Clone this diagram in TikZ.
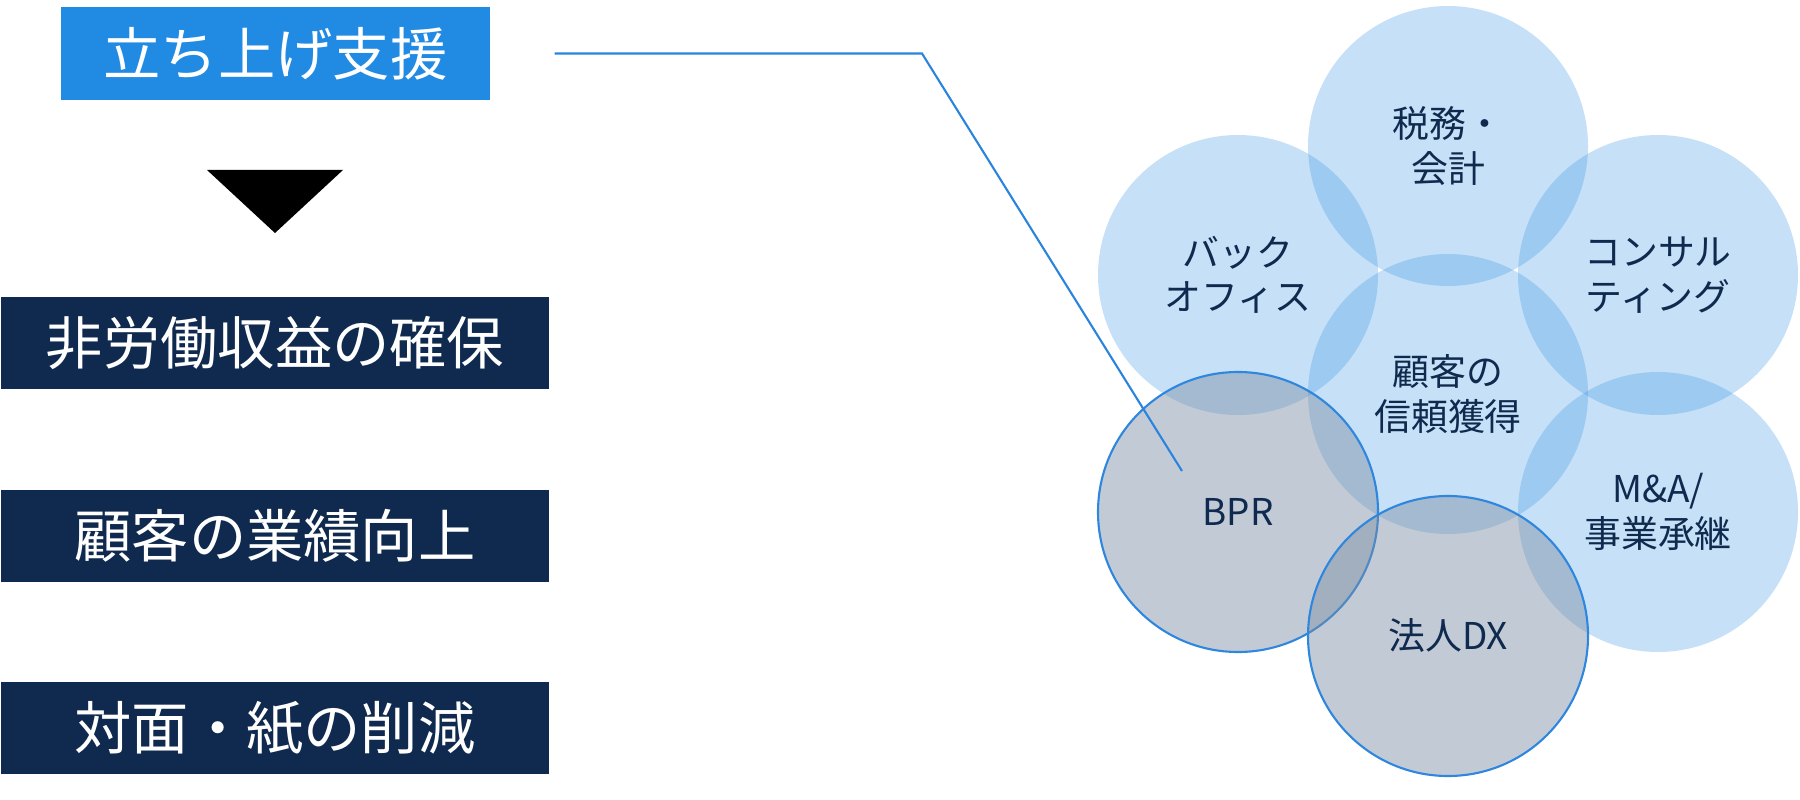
\documentclass[tikz,border=0pt]{standalone}
\usepackage{fontspec}
\setmainfont{Noto Sans CJK JP}
\usepackage{xcolor}
\usepackage{tikz}
\usetikzlibrary{calc}

\definecolor{navy}{RGB}{15,42,78}
\definecolor{startblue}{RGB}{33,139,228}
\definecolor{linkblue}{RGB}{42,132,222}
\definecolor{petalblue}{RGB}{51,144,226}
\definecolor{greyblue}{RGB}{120,140,162}
\definecolor{ringblue}{RGB}{46,134,222}

\begin{document}
\begin{tikzpicture}[x=0.1mm, y=-0.1mm,
        every node/.style={font=\small},
        headbox/.style={fill=startblue, text=white, inner sep=0pt,
          minimum width=42.9mm, minimum height=9.3mm,
          font=\fontsize{16.3}{19}\selectfont},
        goalbox/.style={fill=navy, text=white, inner sep=0pt,
          minimum width=54.8mm, minimum height=9.2mm,
          font=\fontsize{16.3}{19}\selectfont},
        petal/.style={circle, minimum size=28mm, inner sep=0pt,
          fill=petalblue, fill opacity=0.28, text opacity=1, text=navy,
          align=center, font=\fontsize{10.5}{12.6}\selectfont},
        greypetal/.style={petal, fill=greyblue, fill opacity=0.45,
          draw=ringblue, line width=0.6pt},
        link/.style={draw=linkblue, line width=0.6pt}]
        \useasboundingbox (0,0) rectangle (1800,799);
        % left column
        \node[headbox] (start) at (275.5,53.5) {立ち上げ支援};
        \fill (207,170) -- (343,170) -- (275,233) -- cycle;
        \node[goalbox] (goal1) at (275,343) {非労働収益の確保};
        \node[goalbox] (goal2) at (275,536) {顧客の業績向上};
        \node[goalbox] (goal3) at (275,728) {対面・紙の削減};
        % petals
        \node[petal] (trust)   at (1448,394) {顧客の\\信頼獲得};
        \node[petal] (tax)     at (1448,146) {税務・\\会計};
        \node[petal] (back)    at (1238,275) {バック\\オフィス};
        \node[petal] (consult) at (1658,275) {コンサル\\ティング};
        \node[petal] (ma)      at (1658,512) {M\&A/\\事業承継};
        \node[greypetal] (bpr) at (1238,512) {BPR};
        \node[greypetal] (dx)  at (1448,636) {法人DX};
        % connector
        \coordinate (bend) at (922,53.5);
        \coordinate (bprtip) at (1182,471);
        \draw[link, shorten <=6.4mm] (start.east) -- (bend) -- (bprtip);
      \end{tikzpicture}
\end{document}
